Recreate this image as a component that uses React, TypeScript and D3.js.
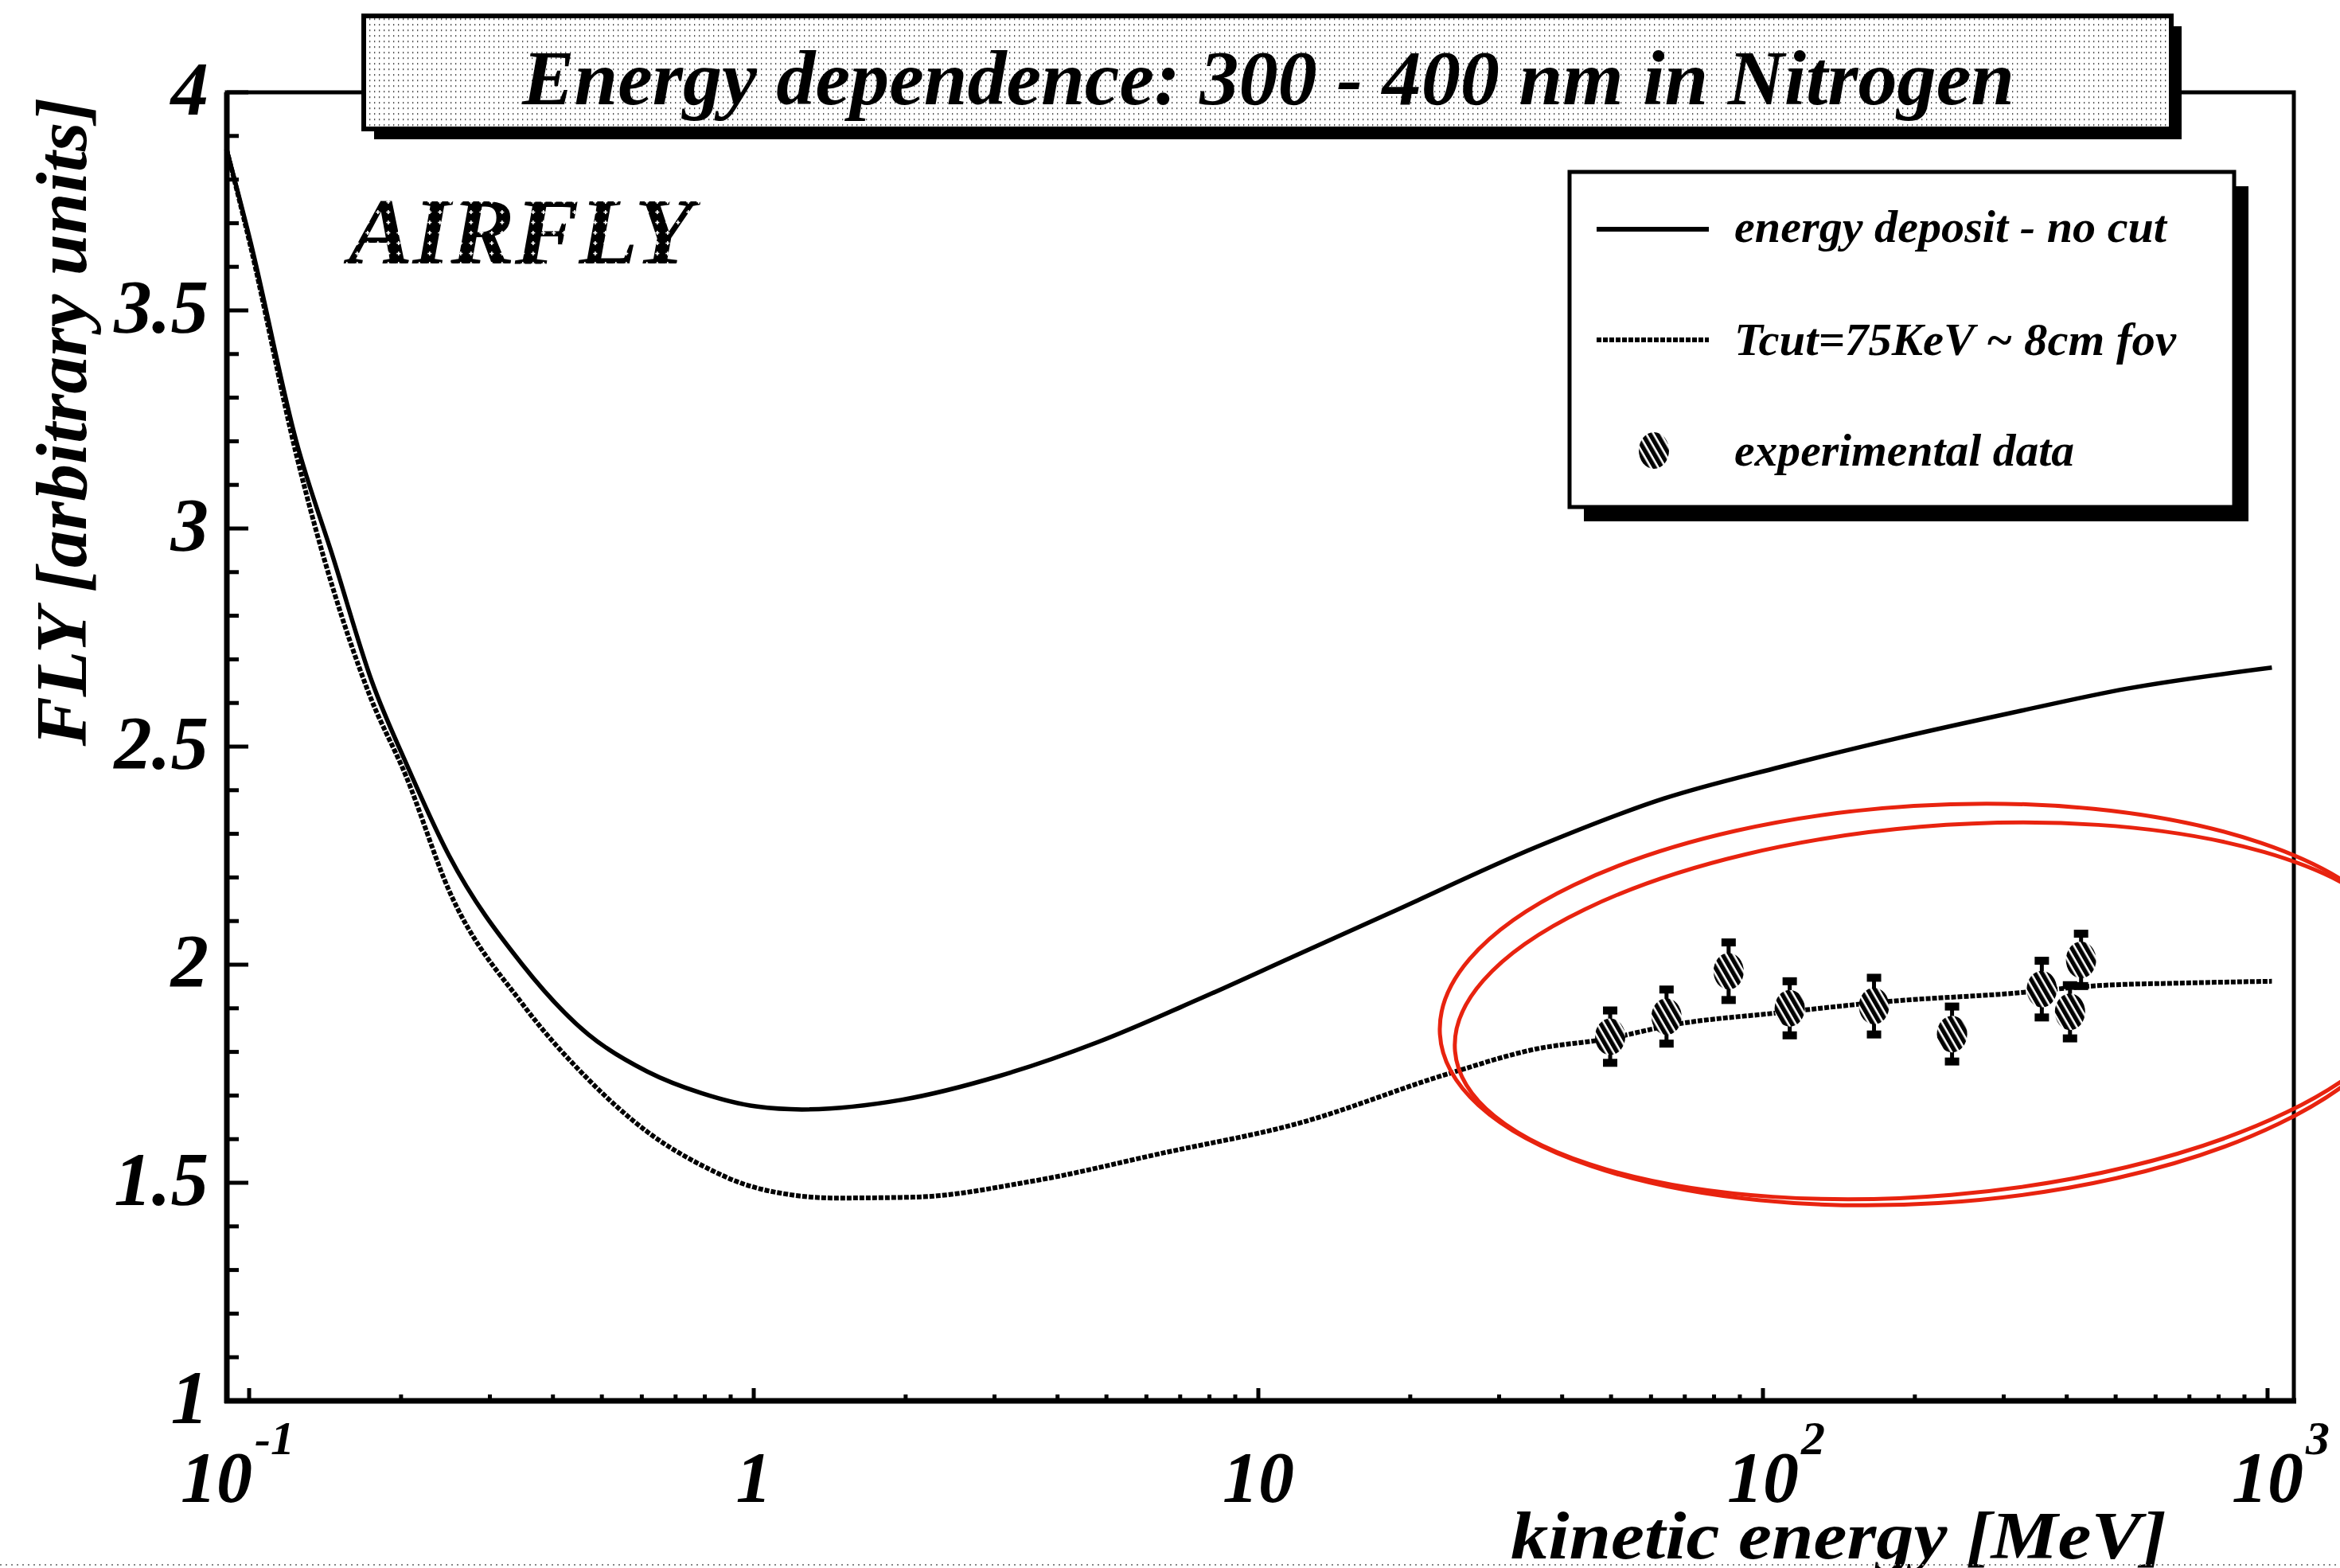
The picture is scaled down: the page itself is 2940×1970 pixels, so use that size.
import React from "react";
import * as d3 from "d3";

const W = 2940;
const H = 1970;

// "energy deposit - no cut" curve
const energyNoCut = [0.0902, 0.1005, 0.124, 0.147, 0.175, 0.205, 0.249, 0.348, 0.47, 0.615, 0.79, 1.01, 1.245, 1.96, 3.07, 4.82, 7.59, 11.9, 18.2, 35.6, 63.7, 108, 183, 310, 527, 1020];
const flyNoCut = [3.87, 3.66, 3.2, 2.93, 2.65, 2.46, 2.25, 2.0, 1.84, 1.755, 1.705, 1.675, 1.668, 1.69, 1.745, 1.823, 1.92, 2.022, 2.118, 2.27, 2.381, 2.453, 2.518, 2.577, 2.633, 2.681];

// "Tcut=75KeV ~ 8cm fov" curve
const energyTcut = [0.0902, 0.1005, 0.124, 0.173, 0.205, 0.249, 0.348, 0.47, 0.615, 0.817, 0.92, 1.21, 1.45, 2.07, 3.58, 6.52, 11.9, 23.8, 35.6, 49.1, 67, 108, 183, 310, 461, 686, 1020];
const flyTcut = [3.87, 3.65, 3.17, 2.62, 2.43, 2.17, 1.91, 1.737, 1.617, 1.531, 1.504, 1.471, 1.465, 1.467, 1.504, 1.569, 1.635, 1.75, 1.807, 1.83, 1.863, 1.89, 1.917, 1.934, 1.952, 1.958, 1.962];

// experimental data
const dataEnergy = [49.8, 64.4, 85.5, 113, 166, 237, 357, 406, 427];
const dataFly = [1.835, 1.881, 1.985, 1.9, 1.905, 1.841, 1.944, 1.892, 2.011];
const dataErr = [0.06, 0.062, 0.066, 0.062, 0.065, 0.063, 0.065, 0.061, 0.06];

const yMajorTicks = [1, 1.5, 2, 2.5, 3, 3.5, 4];
const yTickLabels = ["1", "1.5", "2", "2.5", "3", "3.5", "4"];
const xDecades = [0.1, 1, 10, 100, 1000];
const xBaseLabels = ["10", "1", "10", "10", "10"];
const xExpLabels = ["-1", "", "", "2", "3"];

const titleText = "Energy dependence: 300 - 400 nm in Nitrogen";
const legendLabels = ["energy deposit - no cut", "Tcut=75KeV ~ 8cm fov", "experimental data"];

const FONT = "'Liberation Serif', 'Times New Roman', serif";

export default function App() {
  const x = d3.scaleLog().domain([Math.pow(10, -1.0442), Math.pow(10, 3.0521)]).range([285, 2882]);
  const y = d3.scaleLinear().domain([1, 4]).range([1760, 116]);

  const line = d3
    .line<[number, number]>()
    .x((d) => x(d[0]))
    .y((d) => y(d[1]))
    .curve(d3.curveMonotoneX);

  const noCutPath = line(energyNoCut.map((e, i) => [e, flyNoCut[i]]) as [number, number][]) || "";
  const tcutPath = line(energyTcut.map((e, i) => [e, flyTcut[i]]) as [number, number][]) || "";

  const yMinor = d3.range(1, 4.0001, 0.1).filter((v) => !yMajorTicks.some((m) => Math.abs(m - v) < 1e-6));
  const xMinor: number[] = [];
  [0.1, 1, 10, 100].forEach((d) => {
    for (let k = 2; k <= 9; k++) xMinor.push(d * k);
  });

  const [x0, x1] = x.range();
  const [yb, yt] = y.range();

  const txt = { fontFamily: FONT, fontWeight: "bold" as const, fontStyle: "italic" as const };

  const expShift = [-41, 0, 0, 0, 0];

  return (
    <div style={{ position: "absolute", left: 0, top: 0 }}>
      <svg width={W} height={H} viewBox={`0 0 ${W} ${H}`} style={{ display: "block", background: "#fff" }}>
        <defs>
          <pattern id="dots" width={6} height={7} patternUnits="userSpaceOnUse">
            <rect width={6} height={7} fill="#fff" />
            <rect x={2} y={2} width={1.3} height={2.2} fill="#555" />
          </pattern>
          <pattern id="cross" width={13} height={13} patternUnits="userSpaceOnUse">
            <rect width={13} height={13} fill="#000" />
            <rect x={6} y={4} width={1.6} height={5} fill="#fff" />
            <rect x={4.3} y={5.7} width={5} height={1.6} fill="#fff" />
          </pattern>
          <pattern id="hatch" width={8} height={8} patternUnits="userSpaceOnUse" patternTransform="rotate(-30)">
            <rect width={8} height={8} fill="#fff" />
            <rect x={0} y={0} width={5.4} height={8} fill="#000" />
          </pattern>
        </defs>

        {/* frame */}
        <rect x={x0} y={yt} width={x1 - x0} height={yb - yt} fill="none" stroke="#000" strokeWidth={5} />
        <line x1={x0} x2={x0} y1={yt} y2={yb + 3} stroke="#000" strokeWidth={7} />
        <line x1={x0 - 3} x2={x1 + 3} y1={yb} y2={yb} stroke="#000" strokeWidth={7} />

        {/* y ticks */}
        {yMajorTicks.map((v, i) => (
          <g key={"ym" + i}>
            <line x1={x0} x2={x0 + 27} y1={y(v)} y2={y(v)} stroke="#000" strokeWidth={5} />
            <text x={262} y={y(v) + 28} textAnchor="end" fontSize={95} {...txt}>
              {yTickLabels[i]}
            </text>
          </g>
        ))}
        {yMinor.map((v, i) => (
          <line key={"yn" + i} x1={x0} x2={x0 + 15} y1={y(v)} y2={y(v)} stroke="#000" strokeWidth={5} />
        ))}

        {/* x ticks */}
        {xDecades.map((v, i) => (
          <g key={"xm" + i}>
            <line x1={x(v)} x2={x(v)} y1={yb} y2={yb - 16} stroke="#000" strokeWidth={5} />
            <text x={x(v) + expShift[i]} y={1887} textAnchor="middle" fontSize={90} {...txt}>
              {xBaseLabels[i]}
            </text>
            {xExpLabels[i] && (
              <text x={x(v) + expShift[i] + 48} y={1827} textAnchor="start" fontSize={60} {...txt}>
                {xExpLabels[i]}
              </text>
            )}
          </g>
        ))}
        {xMinor.map((v, i) => (
          <line key={"xn" + i} x1={x(v)} x2={x(v)} y1={yb} y2={yb - 8} stroke="#000" strokeWidth={5} />
        ))}

        {/* axis titles */}
        <text
          transform={`translate(108, 530) rotate(-90)`}
          textAnchor="middle"
          fontSize={90}
          textLength={815}
          lengthAdjust="spacingAndGlyphs"
          {...txt}
        >
          FLY [arbitrary units]
        </text>
        <text x={1898} y={1958} fontSize={84} textLength={824} lengthAdjust="spacingAndGlyphs" {...txt}>
          kinetic energy [MeV]
        </text>

        {/* curves */}
        <path d={noCutPath} fill="none" stroke="#000" strokeWidth={5.5} />
        <path d={tcutPath} fill="none" stroke="#000" strokeWidth={6} strokeDasharray="6 2" />

        {/* data points */}
        {dataEnergy.map((e, i) => {
          const cx = x(e);
          const cy = y(dataFly[i]);
          const yTop = y(dataFly[i] + dataErr[i]);
          const yBot = y(dataFly[i] - dataErr[i]);
          return (
            <g key={"pt" + i}>
              <line x1={cx} x2={cx} y1={yTop} y2={yBot} stroke="#000" strokeWidth={5} />
              <rect x={cx - 9} y={yTop - 5} width={18} height={10} fill="#000" />
              <rect x={cx - 9} y={yBot - 5} width={18} height={10} fill="#000" />
              <ellipse cx={cx} cy={cy} rx={19} ry={23} fill="url(#hatch)" />
            </g>
          );
        })}

        {/* AIRFLY */}
        <text x={438} y={331} fontSize={118} textLength={433} lengthAdjust="spacingAndGlyphs" fill="url(#cross)" {...txt}>
          AIRFLY
        </text>

        {/* title box */}
        <rect x={470} y={33} width={2271} height={142} fill="#000" />
        <rect x={457} y={20} width={2271} height={142} fill="url(#dots)" stroke="#000" strokeWidth={6} />
        <text x={656} y={131} fontSize={98} textLength={1875} lengthAdjust="spacingAndGlyphs" {...txt}>
          {titleText}
        </text>

        {/* legend */}
        <rect x={1990} y={234} width={835} height={421} fill="#000" />
        <rect x={1972} y={216} width={835} height={421} fill="#fff" stroke="#000" strokeWidth={5} />
        <line x1={2006} x2={2147} y1={288} y2={288} stroke="#000" strokeWidth={6} />
        <line x1={2006} x2={2147} y1={427} y2={427} stroke="#000" strokeWidth={6} strokeDasharray="6 2" />
        <ellipse cx={2078} cy={566} rx={19} ry={23} fill="url(#hatch)" />
        <text x={2179} y={304} fontSize={58} textLength={543} lengthAdjust="spacingAndGlyphs" {...txt}>
          {legendLabels[0]}
        </text>
        <text x={2179} y={446} fontSize={58} textLength={555} lengthAdjust="spacingAndGlyphs" {...txt}>
          {legendLabels[1]}
        </text>
        <text x={2179} y={585} fontSize={58} textLength={427} lengthAdjust="spacingAndGlyphs" {...txt}>
          {legendLabels[2]}
        </text>

        {/* red annotation ellipses */}
        <ellipse cx={2420} cy={1262} rx={612} ry={250} transform="rotate(-3.5 2420 1262)" fill="none" stroke="#e8230f" strokeWidth={5} />
        <ellipse cx={2432} cy={1270} rx={606} ry={232} transform="rotate(-4.8 2432 1270)" fill="none" stroke="#e8230f" strokeWidth={5} />

        {/* bottom dotted rule */}
        <line x1={0} x2={W} y1={1966} y2={1966} stroke="#888" strokeWidth={2} strokeDasharray="2 5" />
      </svg>
    </div>
  );
}
